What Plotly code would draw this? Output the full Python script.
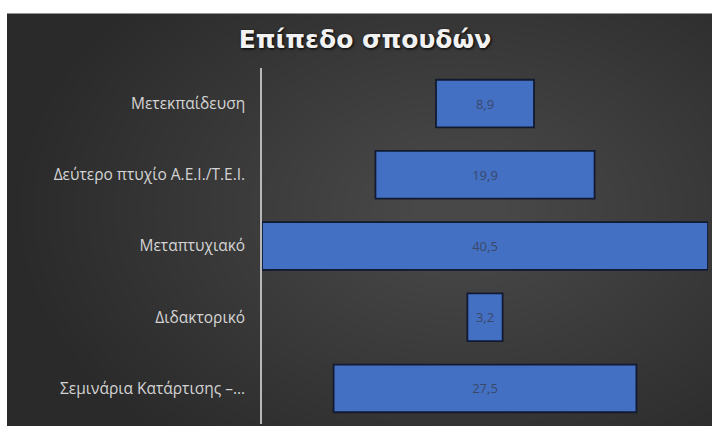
import plotly.graph_objects as go

categories = ["Μετεκπαίδευση", "Δεύτερο πτυχίο Α.Ε.Ι./Τ.Ε.Ι.", "Μεταπτυχιακό",
              "Διδακτορικό", "Σεμινάρια Κατάρτισης –..."]
values = [8.9, 19.9, 40.5, 3.2, 27.5]
value_labels = ["8,9", "19,9", "40,5", "3,2", "27,5"]
title_text = "Επίπεδο σπουδών"

W, H = 712, 426
L, R, T, B = 262, 4, 67.5, 2
pw, ph = W - L - R, H - T - B

def px_x(x):
    return (x - L) / pw

def px_y(y):
    return (H - B - y) / ph

fig = go.Figure()
fig.add_trace(go.Bar(
    y=categories,
    x=values,
    base=[-v / 2 for v in values],
    orientation="h",
    text=value_labels,
    textposition="inside",
    insidetextanchor="middle",
    textangle=0,
    textfont=dict(family="Open Sans", size=13, color="#3a4868"),
    marker=dict(color="#4470c4", line=dict(color="#111a30", width=1.8)),
    hoverinfo="skip",
))

shapes = [dict(type="rect", xref="paper", yref="paper",
               x0=px_x(7), x1=px_x(W + 2), y0=px_y(13), y1=px_y(H + 2),
               fillcolor="#2a2a2a", line=dict(width=0), layer="below")]
# radial lightening towards the middle
cx, cy = 460, 210
n = 30
for i in range(n):
    rx = 440 - i * 13.5
    ry = 300 - i * 9.2
    shapes.append(dict(type="circle", xref="paper", yref="paper",
                       x0=px_x(cx - rx), x1=px_x(cx + rx),
                       y0=px_y(cy + ry), y1=px_y(cy - ry),
                       fillcolor="rgba(255,255,255,0.0095)", line=dict(width=0),
                       layer="below"))

fig.update_layout(
    width=W, height=H,
    margin=dict(l=L, r=R, t=T, b=B, pad=0),
    paper_bgcolor="white",
    plot_bgcolor="rgba(0,0,0,0)",
    shapes=shapes,
    showlegend=False,
    bargap=0.33,
    title=dict(text=title_text, x=365 / W, xanchor="center", y=1 - 39 / H, yanchor="middle",
               font=dict(family="DejaVu Sans", size=25, color="#f2f2f2", weight="bold",
                         shadow="1px 1px 3px #000")),
    xaxis=dict(range=[-20.25, 20.25], visible=False, fixedrange=True),
    yaxis=dict(autorange="reversed", showline=True, linecolor="#b8b8b8", linewidth=1.5,
               showgrid=False, zeroline=False, ticks="", ticklabelstandoff=12,
               automargin=False, fixedrange=True,
               tickfont=dict(family="Open Sans", size=15.5, color="#d4d4d4")),
)

fig.write_html("out.html", config={"displayModeBar": False},
               post_script="document.body.style.margin='0';document.body.style.overflow='hidden';")
